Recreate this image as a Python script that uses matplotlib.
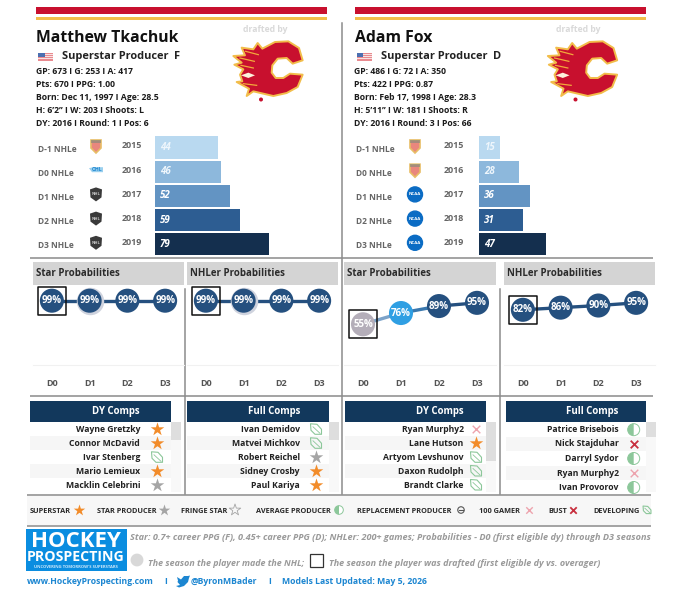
import matplotlib

matplotlib.use("Agg")
import matplotlib.pyplot as plt
from matplotlib.patches import Circle, Polygon, Rectangle, Wedge

W, H = 680, 615
plt.rcParams["font.family"] = ["Open Sans", "Lato", "DejaVu Sans"]

SEASON_LABELS = ["D-1 NHLe", "D0 NHLe", "D1 NHLe", "D2 NHLe", "D3 NHLe"]
SEASON_YEARS = [2015, 2016, 2017, 2018, 2019]
PROB_LABELS = ["D0", "D1", "D2", "D3"]

TKACHUK_INFO = [
    "GP: 673 I G: 253 I A: 417",
    "Pts: 670 I PPG: 1.00",
    "Born: Dec 11, 1997 I Age: 28.5",
    "H: 6’2’’ I W: 203 I Shoots: L",
    "DY: 2016 I Round: 1 I Pos: 6",
]
FOX_INFO = [
    "GP: 486 I G: 72 I A: 350",
    "Pts: 422 I PPG: 0.87",
    "Born: Feb 17, 1998 I Age: 28.3",
    "H: 5’11’’ I W: 181 I Shoots: R",
    "DY: 2016 I Round: 3 I Pos: 66",
]

TKACHUK_NHLE = [44, 46, 52, 59, 79]
FOX_NHLE = [15, 28, 36, 31, 47]
TKACHUK_LEAGUES = ["ntdp", "ohl", "nhl", "nhl", "nhl"]
FOX_LEAGUES = ["ntdp", "ntdp", "ncaa", "ncaa", "ncaa"]

TKACHUK_STAR = [99, 99, 99, 99]
TKACHUK_NHLER = [99, 99, 99, 99]
FOX_STAR = [55, 76, 89, 95]
FOX_NHLER = [82, 86, 90, 95]

TKACHUK_DY_NAMES = ["Wayne Gretzky", "Connor McDavid", "Ivar Stenberg", "Mario Lemieux", "Macklin Celebrini"]
TKACHUK_DY_KINDS = ["superstar", "superstar", "developing", "superstar", "star"]
TKACHUK_FULL_NAMES = ["Ivan Demidov", "Matvei Michkov", "Robert Reichel", "Sidney Crosby", "Paul Kariya"]
TKACHUK_FULL_KINDS = ["developing", "developing", "star", "superstar", "superstar"]
FOX_DY_NAMES = ["Ryan Murphy2", "Lane Hutson", "Artyom Levshunov", "Daxon Rudolph", "Brandt Clarke"]
FOX_DY_KINDS = ["gamer", "superstar", "developing", "developing", "developing"]
FOX_FULL_NAMES = ["Patrice Brisebois", "Nick Stajduhar", "Darryl Sydor", "Ryan Murphy2", "Ivan Provorov"]
FOX_FULL_KINDS = ["average", "bust", "average", "gamer", "average"]

BAR_COLORS = ["#b9d9f0", "#8db8dc", "#6394c3", "#2d5d92", "#142f4e"]
NAVY = "#12385c"
PROB_DARK = "#25507f"
BLUE = "#1c86d1"

# flame logo outline (3x crop units)
LOGO_OUTER = [(98, 33), (112, 50), (150, 30), (190, 28), (222, 48), (233, 85), (203, 95), (185, 78), (158, 80),
              (142, 100), (140, 122), (152, 138), (175, 138), (195, 125), (233, 128), (218, 165), (185, 183),
              (145, 192), (115, 185), (85, 178), (65, 192), (72, 170), (35, 150), (52, 148), (45, 128), (55, 112),
              (28, 98), (50, 92), (25, 72), (60, 70), (50, 47), (85, 52)]
LOGO_EYE = [(48, 130), (70, 122), (90, 130), (70, 138)]
LOGO_STREAKS = [[(62, 58), (100, 68)], [(45, 78), (88, 88)], [(48, 100), (85, 108)], [(55, 155), (95, 160)]]


def px_axes(fig, x0, y0, x1, y1):
    ax = fig.add_axes([x0 / W, 1 - y1 / H, (x1 - x0) / W, (y1 - y0) / H])
    ax.patch.set_alpha(0)
    return ax


def px_text(ax, x, y, s, size=7.5, color="#111111", weight="bold", ha="left", style="normal", va="center"):
    ax.text(x, y, s, fontsize=size, color=color, fontweight=weight, ha=ha, va=va, style=style)


def rect(ax, x0, y0, x1, y1, color, zorder=1, **kw):
    ax.add_patch(Rectangle((x0, y0), x1 - x0, y1 - y0, facecolor=color, edgecolor="none", zorder=zorder, **kw))


def draw_logo(ax, x, y):
    pts = [(x + a / 3, y + b / 3) for a, b in LOGO_OUTER]
    ax.add_patch(Polygon(pts, closed=True, facecolor="#c8102e", edgecolor="#f2bd4a", lw=1.4, joinstyle="round"))
    ax.add_patch(Polygon([(x + a / 3, y + b / 3) for a, b in LOGO_EYE], closed=True, facecolor="#fdf3dc",
                         edgecolor="none", zorder=3))
    for (a0, b0), (a1, b1) in LOGO_STREAKS:
        ax.plot([x + a0 / 3, x + a1 / 3], [y + b0 / 3, y + b1 / 3], color="#f2a93b", lw=0.9, zorder=3)
    ax.add_patch(Circle((x + 36, y + 67.5), 1.3, color="#c8102e"))


def draw_flag(ax, x, y):
    rect(ax, x, y, x + 15, y + 8, "#e98a8f")
    for i in (1, 3, 5):
        rect(ax, x, y + i * 1.15, x + 15, y + (i + 1) * 1.15, "#f7e3e3", zorder=2)
    rect(ax, x, y, x + 6.5, y + 4.2, "#4c6fb0", zorder=3)


def draw_league(ax, x, y, kind):
    if kind == "nhl":
        ax.add_patch(Polygon([(x - 6, y - 5), (x, y - 7), (x + 6, y - 5), (x + 5.5, y + 3), (x, y + 7), (x - 5.5, y + 3)],
                             closed=True, facecolor="#3a3a3a", edgecolor="none", zorder=2))
        ax.text(x, y, "NHL", fontsize=3, color="#cfcfcf", ha="center", va="center", fontweight="bold", zorder=3)
    elif kind == "ohl":
        ax.add_patch(Polygon([(x - 7, y - 2), (x - 3, y - 3), (x + 7, y - 3), (x + 7, y + 2), (x - 4, y + 2)],
                             closed=True, facecolor="#9bd0ee", edgecolor="none", zorder=2))
        ax.text(x + 1.5, y - 0.5, "OHL", fontsize=3.6, color="#1c86d1", ha="center", va="center", fontweight="bold", zorder=3)
    elif kind == "ncaa":
        ax.add_patch(Circle((x, y), 7.5, color="#0b6cc4", zorder=2))
        ax.text(x, y, "NCAA", fontsize=3.2, color="#ffffff", ha="center", va="center", fontweight="bold", zorder=4)
    else:
        ax.add_patch(Polygon([(x - 5, y - 6), (x + 5, y - 6), (x + 5, y + 2), (x, y + 7), (x - 5, y + 2)],
                             closed=True, facecolor="#e9877d", edgecolor="#e8bd66", lw=1.2, zorder=2))
        rect(ax, x - 5, y - 6.5, x + 5, y - 3, "#8c8c7c", zorder=3, alpha=0.7)


def draw_leaf(ax, x, y, scale=1.0, color="#8cc79a"):
    s = scale
    pts = [(x - 5.5 * s, y - 5.5 * s), (x + 1 * s, y - 5 * s), (x + 5.5 * s, y + 0 * s), (x + 5.5 * s, y + 5 * s),
           (x - 1 * s, y + 5 * s), (x - 5 * s, y + 1 * s)]
    ax.add_patch(Polygon(pts, closed=True, facecolor="none", edgecolor=color, lw=0.8, joinstyle="round", zorder=3))
    ax.plot([x - 3 * s, x + 4 * s], [y - 2.5 * s, y + 4 * s], color=color, lw=0.6, zorder=3)


def draw_status(ax, x, y, kind, scale=1.0):
    if kind == "superstar":
        ax.scatter([x], [y], marker="*", s=105 * scale, color="#f28c2a", linewidths=0, zorder=3)
    elif kind == "star":
        ax.scatter([x], [y], marker="*", s=105 * scale, color="#a5a5a5", linewidths=0, zorder=3)
    elif kind == "fringe":
        ax.scatter([x], [y], marker="*", s=105 * scale, facecolor="none", edgecolor="#a5a5a5", linewidths=0.6, zorder=3)
    elif kind == "developing":
        draw_leaf(ax, x, y, scale)
    elif kind == "average":
        r = 6 * scale
        ax.add_patch(Circle((x, y), r, facecolor="white", edgecolor="#8cc79a", lw=0.7, zorder=3))
        ax.add_patch(Wedge((x, y), r, 90, 270, facecolor="#8cc79a", edgecolor="none", zorder=4))
    elif kind == "replacement":
        r = 4.5 * scale
        ax.add_patch(Circle((x, y), r, facecolor="none", edgecolor="#555555", lw=0.8, zorder=3))
        ax.plot([x - 2.2, x + 2.2], [y, y], color="#555555", lw=0.8, zorder=4)
    elif kind == "gamer":
        ax.scatter([x], [y], marker="x", s=30 * scale, color="#eda3ad", linewidths=1.0, zorder=3)
    elif kind == "bust":
        ax.scatter([x], [y], marker="x", s=30 * scale, color="#c8303f", linewidths=1.3, zorder=3)


def draw_bars(fig, x0, x1, values, px_per_unit):
    ax = px_axes(fig, x0, 135.4, x1, 256.4)
    rows = range(len(values))
    ax.barh(rows, values, height=0.91, color=BAR_COLORS)
    ax.set_xlim(0, (x1 - x0) / px_per_unit)
    ax.set_ylim(len(values) - 0.5, -0.5)
    ax.axis("off")
    for i, v in zip(rows, values):
        ax.text(3.4, i, str(v), color="white" if i > 1 else "#eef6fc", fontsize=7, fontweight="bold", style="italic",
                ha="left", va="center")


def prob_color(v):
    if v < 60:
        return "#b4aeb9"
    if v < 80:
        return "#2f9fe3"
    return PROB_DARK


def draw_probs(fig, x0, x1, values, drafted, halo=None):
    ax = px_axes(fig, x0, 285, x1, 365)
    xs = list(range(len(values)))
    seg_colors = ["#7ca3c9" if values[i] < 60 else "#3a78ae" if values[i] < 80 else PROB_DARK for i in xs[:-1]]
    for i in xs[:-1]:
        ax.plot(xs[i:i + 2], values[i:i + 2], color=seg_colors[i], lw=2.4, zorder=1, solid_capstyle="butt")
    if halo is not None:
        ax.scatter([xs[halo]], [values[halo]], s=390, color="#cfd3de", linewidths=0, zorder=1.5)
    ax.scatter(xs, values, s=300, color=[prob_color(v) for v in values], linewidths=0, zorder=2)
    ax.scatter([xs[drafted]], [values[drafted]], marker="s", s=395, facecolor="none", edgecolor="#111111",
               linewidths=1.1, zorder=3)
    for x, v in zip(xs, values):
        ax.text(x, v, f"{v}%", color="white", fontsize=7, fontweight="bold", ha="center", va="center", zorder=4)
    ax.set_xlim(-0.5, 3.5)
    ax.set_ylim(-21, 128.3)
    ax.set_yticks([])
    ax.set_xticks(xs)
    ax.set_xticklabels(PROB_LABELS, fontsize=6.5, fontweight="bold", color="#555555")
    ax.tick_params(axis="x", length=0, pad=10)
    for name in ("top", "left", "right"):
        ax.spines[name].set_visible(False)
    ax.spines["bottom"].set_color("#f1f1f1")


def draw_comps(ax, x0, x1, name_x, icon_x, title, names, kinds, row_y, scroll):
    rect(ax, x0, 401, x1, 421.5, NAVY)
    px_text(ax, name_x, 411.5, title, size=6.9, color="white", ha="right")
    for i, (name, kind, y) in enumerate(zip(names, kinds, row_y)):
        if i % 2 == 1:
            rect(ax, x0, y - 7, x1, y + 7, "#f6f6f6", zorder=0)
        px_text(ax, name_x, y, name, size=6.2, color="#222222", ha="right")
        draw_status(ax, icon_x, y, kind)
    rect(ax, x1, 422, x1 + 10, 492, "#f8f8f8", zorder=0)
    rect(ax, x1, 422, x1 + 10, scroll, "#dedede", zorder=1)


def draw_player(fig, bg, x, name, pos, info, nhle, leagues, ppu, bar_left, drafted_x, logo_x,
                star_rng, nhler_rng, label_x, icon_x, year_x, pos_x):
    rect(bg, x, 7, x + 291, 14.2, "#c8102e")
    rect(bg, x, 16.8, x + 291, 20, "#f2bd4a")
    px_text(bg, drafted_x, 29, "drafted by", size=6.2, color="#d9d9d9", ha="center")
    draw_logo(bg, logo_x, 32)
    px_text(bg, x + 0.2, 37.5, name, size=11.3, color="#111111")
    draw_flag(bg, x + 2, 52.5)
    px_text(bg, x + 26.5, 56.5, "Superstar Producer", size=7.9, color="#222222")
    px_text(bg, pos_x, 56.5, pos, size=7.9, color="#222222")
    for line, y in zip(info, [71, 84.2, 97.5, 110.7, 124]):
        px_text(bg, x, y, line, size=6.2, color="#1b1b1b")
    for i in range(5):
        px_text(bg, label_x, 149 + 24 * i, SEASON_LABELS[i], size=6.0, color="#666666")
        px_text(bg, year_x, 146 + 24.2 * i, str(SEASON_YEARS[i]), size=6.4, color="#666666")
        draw_league(bg, icon_x, 146 + 24.2 * i, leagues[i])
    draw_bars(fig, bar_left, bar_left + 170, nhle, ppu)
    for (x0, x1), title in zip((star_rng, nhler_rng), ("Star Probabilities", "NHLer Probabilities")):
        rect(bg, x0, 262, x1, 285, "#d4d4d4")
        px_text(bg, x0 + 2.8, 274, title, size=7.0, color="#2c2c2c")


def main():
    fig = plt.figure(figsize=(W / 100, H / 100), dpi=100)
    bg = fig.add_axes([0, 0, 1, 1])
    bg.set_xlim(0, W)
    bg.set_ylim(H, 0)
    bg.axis("off")

    draw_player(fig, bg, 36, "Matthew Tkachuk", "F", TKACHUK_INFO, TKACHUK_NHLE, TKACHUK_LEAGUES,
                1.443, 155, 265, 225, (33, 184), (187, 338), 38, 96, 121.5, 174)
    draw_player(fig, bg, 354.5, "Adam Fox", "D", FOX_INFO, FOX_NHLE, FOX_LEAGUES,
                1.425, 479, 578, 539.5, (344, 496), (504, 655), 356, 415, 443.7, 492.7)

    draw_probs(fig, 33, 184, TKACHUK_STAR, 0, halo=1)
    draw_probs(fig, 187, 338, TKACHUK_NHLER, 0, halo=1)
    draw_probs(fig, 344, 496, FOX_STAR, 0)
    draw_probs(fig, 504, 655, FOX_NHLER, 0)

    rows_a = [429.3, 443.3, 457.3, 471, 485]
    rows_b = [429.7, 444, 458.5, 473, 487.5]
    draw_comps(bg, 30, 171, 140, 157, "DY Comps", TKACHUK_DY_NAMES, TKACHUK_DY_KINDS, rows_a, 440)
    draw_comps(bg, 187, 329, 300, 316, "Full Comps", TKACHUK_FULL_NAMES, TKACHUK_FULL_KINDS, rows_a, 440)
    draw_comps(bg, 345, 485.5, 463.6, 476, "DY Comps", FOX_DY_NAMES, FOX_DY_KINDS, rows_a, 461)
    draw_comps(bg, 506, 646, 618.6, 633.7, "Full Comps", FOX_FULL_NAMES, FOX_FULL_KINDS, rows_b, 437)

    # dividers
    for y, x0, x1 in [(258, 30, 653), (396, 30, 653), (494.5, 27, 651), (525.5, 27, 651)]:
        bg.plot([x0, x1], [y, y], color="#9c9c9c", lw=1.3, zorder=5, solid_capstyle="butt")
    bg.plot([341.6, 341.6], [23, 494], color="#8c8c8c", lw=1.1, zorder=5)
    bg.plot([185, 185], [289, 494], color="#8c8c8c", lw=1.1, zorder=5)
    bg.plot([500.3, 500.3], [289, 494], color="#8c8c8c", lw=1.1, zorder=5)

    # legend strip
    rect(bg, 27, 496, 651, 525, "#f7f7f7", zorder=0)
    legend_items = [
        ("SUPERSTAR", 30, 79, "superstar"), ("STAR PRODUCER", 97, 164, "star"), ("FRINGE STAR", 181, 235, "fringe"),
        ("AVERAGE PRODUCER", 256, 339, "average"), ("REPLACEMENT PRODUCER", 357, 461, "replacement"),
        ("100 GAMER", 478.7, 528.7, "gamer"), ("BUST", 548.7, 573, "bust"), ("DEVELOPING", 593, 647, "developing"),
    ]
    for label, tx, ix, kind in legend_items:
        px_text(bg, tx, 511.5, label, size=5.35, color="#2a2a2a")
        draw_status(bg, ix, 510, kind, scale=0.72)

    # brand block
    rect(bg, 26, 528.7, 126.5, 570.7, "#0a8de0")
    px_text(bg, 76, 547.3, "HOCKEY", size=16, color="white", ha="center", va="baseline")
    px_text(bg, 76, 560.8, "PROSPECTING", size=10.2, color="white", ha="center", va="baseline")
    px_text(bg, 76, 566.8, "UNCOVERING TOMORROW'S SUPERSTARS", size=3, color="#cfe9fb", ha="center")

    note = "Star: 0.7+ career PPG (F), 0.45+ career PPG (D); NHLer: 200+ games; Probabilities - D0 (first eligible dy) through D3 seasons"
    px_text(bg, 130, 537.7, note, size=6.6, color="#9a9a9a", style="italic")
    bg.add_patch(Circle((137, 560), 5.7, color="#d8d8d8"))
    px_text(bg, 148, 563.5, "The season the player made the NHL;", size=6.4, color="#9a9a9a", style="italic")
    bg.add_patch(Rectangle((310, 553.7), 13, 13, facecolor="white", edgecolor="#333333", lw=0.9))
    px_text(bg, 329, 563.5, "The season the player was drafted (first eligible dy vs. overager)", size=6.45,
            color="#9a9a9a", style="italic")

    # footer
    px_text(bg, 27, 581.3, "www.HockeyProspecting.com", size=6.2, color=BLUE)
    px_text(bg, 166, 581.3, "I", size=6.2, color=BLUE, ha="center")
    bird = [(177, 577), (181, 579.5), (184, 576), (188, 576), (190, 575.5), (189, 578), (188, 582), (184, 586),
            (179, 587.5), (176, 586), (180, 585), (177.5, 582), (178, 580.5)]
    bg.add_patch(Polygon(bird, closed=True, color=BLUE, lw=0))
    px_text(bg, 191, 581.3, "@ByronMBader", size=6.2, color=BLUE)
    px_text(bg, 270, 581.3, "I", size=6.2, color=BLUE, ha="center")
    px_text(bg, 282, 581.3, "Models Last Updated: May 5, 2026", size=6.2, color=BLUE)

    fig.savefig("out.png", dpi=100)
    plt.close(fig)


if __name__ == "__main__":
    main()
